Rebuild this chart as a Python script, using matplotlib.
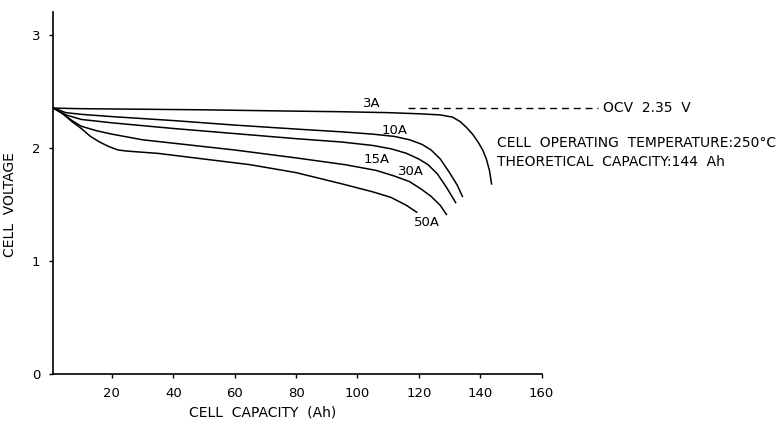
import matplotlib
matplotlib.use("Agg")
import matplotlib.pyplot as plt

# discharge curves (capacity Ah, voltage V)
cap_3a = [1, 10, 30, 50, 75, 95, 110, 120, 127, 131, 133.5, 135.5, 137.5, 139.3, 140.8, 142, 143, 143.7]
v_3a = [2.35, 2.345, 2.34, 2.335, 2.325, 2.318, 2.31, 2.30, 2.29, 2.27, 2.23, 2.18, 2.12, 2.05, 1.98, 1.90, 1.80, 1.68]

cap_10a = [1, 5, 10, 20, 40, 60, 80, 95, 105, 112, 117, 121, 124, 127, 130, 132.5, 134.2]
v_10a = [2.35, 2.31, 2.295, 2.275, 2.24, 2.20, 2.165, 2.14, 2.12, 2.10, 2.07, 2.03, 1.98, 1.90, 1.78, 1.67, 1.57]

cap_15a = [1, 5, 10, 20, 40, 60, 80, 95, 105, 111, 116, 120, 123, 126, 129, 132]
v_15a = [2.35, 2.29, 2.25, 2.22, 2.17, 2.125, 2.08, 2.05, 2.02, 1.99, 1.95, 1.90, 1.85, 1.77, 1.65, 1.515]

cap_30a = [1, 4, 7, 10, 15, 20, 30, 40, 60, 80, 96, 106, 112, 117, 121, 124, 127, 129]
v_30a = [2.35, 2.30, 2.24, 2.19, 2.15, 2.12, 2.07, 2.04, 1.98, 1.91, 1.85, 1.80, 1.75, 1.70, 1.63, 1.57, 1.49, 1.41]

cap_50a = [1, 4, 7, 10, 13, 16, 19, 22, 25, 35, 50, 65, 80, 95, 105, 111, 116, 119.3]
v_50a = [2.35, 2.30, 2.23, 2.17, 2.10, 2.05, 2.01, 1.98, 1.97, 1.95, 1.90, 1.85, 1.78, 1.68, 1.61, 1.56, 1.49, 1.43]

curve_labels = ["3A", "10A", "15A", "30A", "50A"]
label_pos = [(104.7, 2.39), (112, 2.15), (106.2, 1.90), (117.4, 1.79), (122.8, 1.34)]

x_ticks = [20, 40, 60, 80, 100, 120, 140, 160]
y_ticks = [0, 1, 2, 3]
ocv = 2.35

FONT = "DejaVu Sans"

fig = plt.figure(figsize=(7.83, 4.22), dpi=100)
ax = fig.add_axes([0.0677, 0.1137, 0.624, 0.858])

for cx, cy in [(cap_3a, v_3a), (cap_10a, v_10a), (cap_15a, v_15a), (cap_30a, v_30a), (cap_50a, v_50a)]:
    ax.plot(cx, cy, color="black", lw=1.1, solid_joinstyle="round")

for lab, (lx, ly) in zip(curve_labels, label_pos):
    ax.text(lx, ly, lab, ha="center", va="center", fontsize=9.5, family=FONT)

# open circuit voltage marker
ln, = ax.plot([116.4, 178.3], [ocv, ocv], color="black", lw=1.0, clip_on=False)
ln.set_dashes([5, 3.5])
ax.text(180, ocv, "OCV  2.35  V", ha="left", va="center", fontsize=10, family=FONT)

ax.text(145.4, 2.04, "CELL  OPERATING  TEMPERATURE:250°C", ha="left", va="center",
        fontsize=10, family=FONT)
ax.text(145.4, 1.87, "THEORETICAL  CAPACITY:144  Ah", ha="left", va="center",
        fontsize=10, family=FONT)

ax.set_xlim(0.8, 160)
ax.set_ylim(0, 3.2)
ax.set_xticks(x_ticks)
ax.set_yticks(y_ticks)
ax.tick_params(axis="both", direction="out", length=3, width=1, labelsize=9.5, pad=6)
for t in ax.get_xticklabels() + ax.get_yticklabels():
    t.set_family(FONT)

for side in ["top", "right"]:
    ax.spines[side].set_visible(False)
for side in ["left", "bottom"]:
    ax.spines[side].set_linewidth(1.2)

ax.set_xlabel("CELL  CAPACITY  (Ah)", fontsize=10, family=FONT)
ax.xaxis.set_label_coords(0.428, -0.088)
ax.set_ylabel("CELL  VOLTAGE", fontsize=10, family=FONT)
ax.yaxis.set_label_coords(-0.074, 0.467)

fig.savefig("out.png", dpi=100)
